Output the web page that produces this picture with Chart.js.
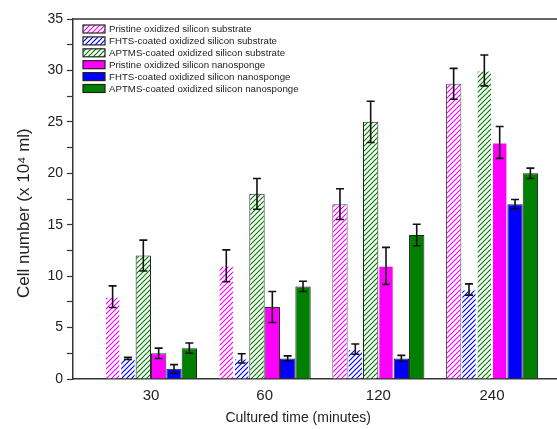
<!DOCTYPE html>
<html>
<head>
<meta charset="utf-8">
<script src="https://cdn.jsdelivr.net/npm/chart.js@4/dist/chart.umd.min.js"></script>
<style>
html,body{margin:0;padding:0;background:#fff;overflow:hidden;width:557px;height:429px;}
#wrap{width:600px;height:429px;}
</style>
</head>
<body>
<div id="wrap"><canvas id="c" width="600" height="429"></canvas></div>
<script>
const categories = ['30', '60', '120', '240'];
const seriesLabels = [
  'Pristine oxidized silicon substrate',
  'FHTS-coated oxidized silicon substrate',
  'APTMS-coated oxidized silicon substrate',
  'Pristine oxidized silicon nanosponge',
  'FHTS-coated oxidized silicon nanosponge',
  'APTMS-coated oxidized silicon nanosponge'
];
const pristineSubstrate = [8, 11, 17, 28.7];
const pristineSubstrateErr = [1.05, 1.55, 1.5, 1.5];
const fhtsSubstrate = [2, 2, 2.9, 8.7];
const fhtsSubstrateErr = [0.1, 0.45, 0.5, 0.55];
const aptmsSubstrate = [12, 18, 25, 30];
const aptmsSubstrateErr = [1.5, 1.5, 2, 1.5];
const pristineSponge = [2.5, 7, 11, 23];
const pristineSpongeErr = [0.5, 1.5, 1.8, 1.55];
const fhtsSponge = [1, 2, 2, 17];
const fhtsSpongeErr = [0.4, 0.25, 0.3, 0.45];
const aptmsSponge = [3, 9, 14, 20];
const aptmsSpongeErr = [0.5, 0.5, 1.05, 0.5];
const yTickStep = 2.5;

const FONT = "'Liberation Sans', Arial, sans-serif";

function hatch(color) {
  const s = 5;
  const c = document.createElement('canvas');
  c.width = s; c.height = s;
  const g = c.getContext('2d');
  g.fillStyle = '#fff';
  g.fillRect(0, 0, s, s);
  g.strokeStyle = color;
  g.lineWidth = 1.2;
  g.beginPath();
  g.moveTo(-1, s + 1); g.lineTo(s + 1, -1);
  g.moveTo(-1, 1); g.lineTo(1, -1);
  g.moveTo(s - 1, s + 1); g.lineTo(s + 1, s - 1);
  g.stroke();
  return g.createPattern(c, 'repeat');
}

const T = 'rgba(0,0,0,0)';
const seriesValues = [pristineSubstrate, fhtsSubstrate, aptmsSubstrate, pristineSponge, fhtsSponge, aptmsSponge];
const seriesErrors = [pristineSubstrateErr, fhtsSubstrateErr, aptmsSubstrateErr, pristineSpongeErr, fhtsSpongeErr, aptmsSpongeErr];
const styles = [
  {bg: hatch('#ff00ff'), border: [T, T, '#555', '#555'], legendBorder: '#222'},
  {bg: hatch('#0000ff'), border: [T, T, T, T], legendBorder: '#222'},
  {bg: hatch('#008000'), border: ['#222', '#222', '#222', T], legendBorder: '#222'},
  {bg: '#ff00ff', border: ['#333', '#333', T, T], legendBorder: '#222'},
  {bg: '#0000ff', border: '#222', legendBorder: '#222'},
  {bg: '#008000', border: '#222', legendBorder: '#222'}
];

const datasets = seriesValues.map((vals, i) => ({
  label: seriesLabels[i],
  data: vals.map((v, j) => ({x: j + 1, y: v})),
  errors: seriesErrors[i],
  backgroundColor: styles[i].bg,
  borderColor: styles[i].border,
  legendBorder: styles[i].legendBorder,
  borderWidth: 1,
  categoryPercentage: 0.81,
  barPercentage: 1.0
}));

const errorBars = {
  id: 'errorBars',
  afterDatasetsDraw(chart) {
    const ctx = chart.ctx, y = chart.scales.y;
    ctx.save();
    ctx.strokeStyle = '#111';
    ctx.lineWidth = 1.6;
    chart.data.datasets.forEach((ds, i) => {
      const meta = chart.getDatasetMeta(i);
      meta.data.forEach((el, j) => {
        const v = ds.data[j].y, e = ds.errors[j];
        const x = el.x;
        const top = y.getPixelForValue(v + e), bot = y.getPixelForValue(v - e);
        ctx.beginPath();
        ctx.moveTo(x, top); ctx.lineTo(x, bot);
        ctx.moveTo(x - 4, top); ctx.lineTo(x + 4, top);
        ctx.moveTo(x - 4, bot); ctx.lineTo(x + 4, bot);
        ctx.stroke();
      });
    });
    ctx.restore();
  }
};

const frameAndLegend = {
  id: 'frameAndLegend',
  afterDraw(chart) {
    const ctx = chart.ctx, a = chart.chartArea;
    ctx.save();
    ctx.strokeStyle = '#333';
    ctx.lineWidth = 1.5;
    ctx.beginPath();
    ctx.moveTo(a.left, a.top); ctx.lineTo(a.right, a.top); ctx.lineTo(a.right, a.bottom);
    ctx.stroke();
    const x0 = a.left + 10, y0 = a.top + 10, rowH = 11.9, sw = 22, sh = 8;
    ctx.font = '9.7px ' + FONT;
    ctx.textBaseline = 'middle';
    chart.data.datasets.forEach((ds, i) => {
      const cy = y0 + i * rowH;
      ctx.fillStyle = ds.backgroundColor;
      ctx.fillRect(x0, cy - sh / 2, sw, sh);
      ctx.strokeStyle = ds.legendBorder;
      ctx.lineWidth = 1.2;
      ctx.strokeRect(x0, cy - sh / 2, sw, sh);
      ctx.fillStyle = '#222';
      ctx.fillText(ds.label, x0 + sw + 4, cy + 0.5);
    });
    ctx.restore();
  }
};

new Chart(document.getElementById('c'), {
  type: 'bar',
  data: {datasets},
  options: {
    responsive: false,
    animation: false,
    devicePixelRatio: 1,
    layout: {padding: {top: 19, right: 30, left: 0, bottom: 0}},
    plugins: {legend: {display: false}, tooltip: {enabled: false}},
    scales: {
      x: {
        type: 'linear',
        min: 0.314,
        max: 4.686,
        offset: false,
        afterBuildTicks(scale) { scale.ticks = categories.map((c, i) => ({value: i + 1})); },
        afterFit(scale) { scale.height = 50; },
        ticks: {
          callback: (v) => categories[v - 1] ?? '',
          font: {family: FONT, size: 15},
          color: '#222',
          padding: 8,
          autoSkip: false,
          maxRotation: 0
        },
        grid: {display: false, drawTicks: false},
        border: {display: true, color: '#333', width: 1.5},
        title: {
          display: true,
          text: 'Cultured time (minutes)' + '            ',
          font: {family: FONT, size: 14},
          color: '#222',
          padding: {top: 0, bottom: 2}
        }
      },
      y: {
        min: 0,
        max: 35,
        afterFit(scale) { scale.width = 73; },
        ticks: {
          stepSize: yTickStep,
          callback: (v) => (v % 5 === 0 ? String(v) : ''),
          font: {family: FONT, size: 14},
          color: '#222',
          padding: 4,
          autoSkip: false
        },
        grid: {drawOnChartArea: false, drawTicks: true, tickLength: 6, color: '#333', tickWidth: 1.2},
        border: {display: true, color: '#333', width: 1.5},
        title: {
          display: true,
          text: 'Cell number (x 10\u2074 ml)' + '      ',
          font: {family: FONT, size: 17},
          color: '#222',
          padding: {top: 14, bottom: 0}
        }
      }
    }
  },
  plugins: [errorBars, frameAndLegend]
});
</script>
</body>
</html>
